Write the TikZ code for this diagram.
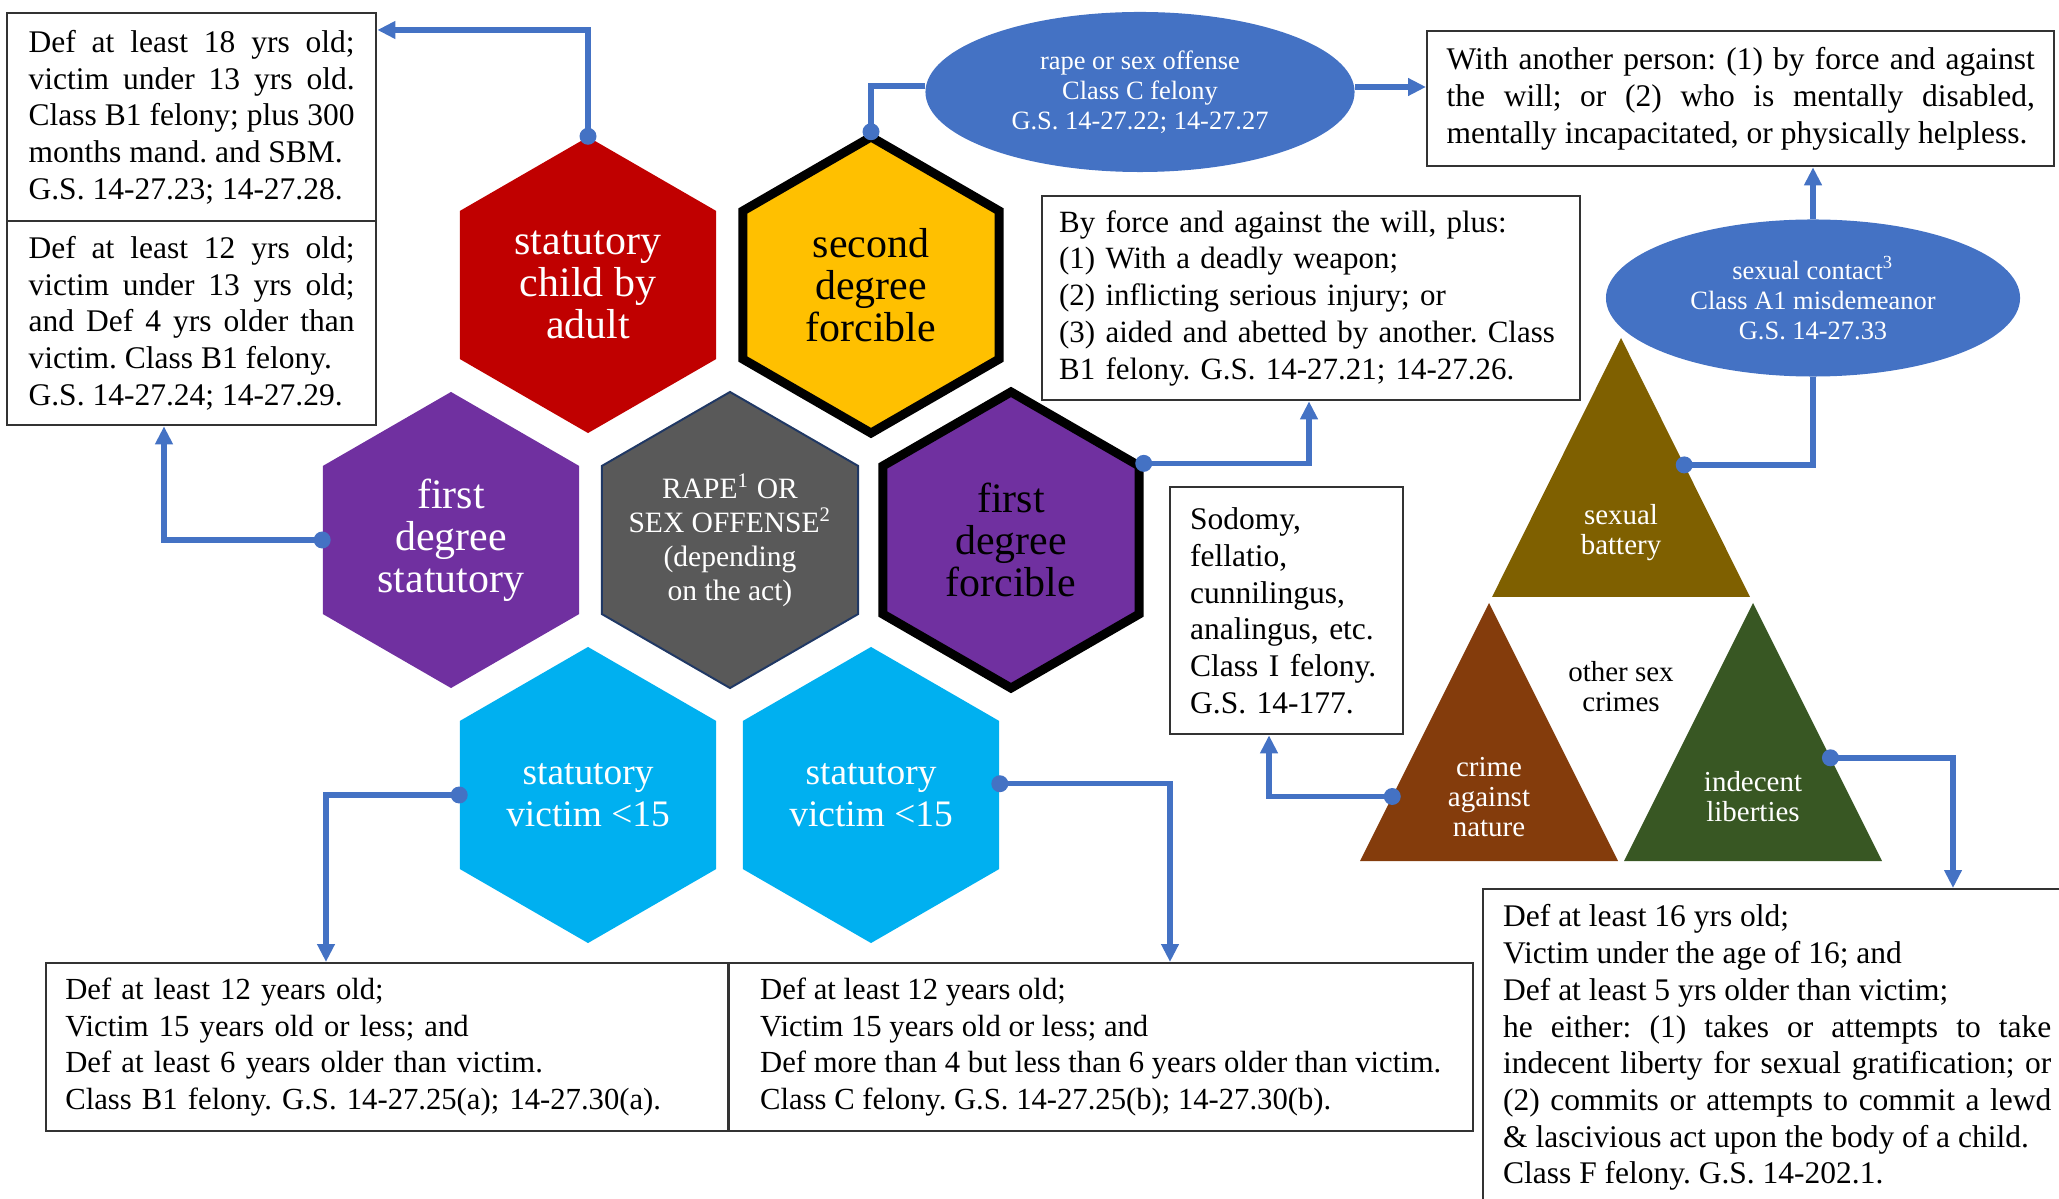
\documentclass[tikz,border=0pt]{standalone}
\usepackage{fontspec}
\setmainfont{Liberation Serif}
\usepackage{xcolor}
\usepackage{tikz}
\usetikzlibrary{shapes.geometric, arrows.meta, positioning, calc}
\frenchspacing
\hyphenpenalty=10000
\exhyphenpenalty=10000

\definecolor{cred}{HTML}{C00000}
\definecolor{cyellow}{HTML}{FFC000}
\definecolor{cpurple}{HTML}{7030A0}
\definecolor{cgrey}{HTML}{595959}
\definecolor{ccyan}{HTML}{00B0F0}
\definecolor{cblue}{HTML}{4472C4}
\definecolor{colive}{HTML}{7F6000}
\definecolor{cbrown}{HTML}{843C0C}
\definecolor{cgreen}{HTML}{385723}
\definecolor{cnavy}{HTML}{203864}

\begin{document}
\begin{tikzpicture}[
    x=0.0125cm, y=-0.0125cm,
    hexa/.style={regular polygon, regular polygon sides=6, shape border rotate=30, minimum size=3.7cm, inner sep=-0.6cm, align=center, font=\fontsize{14.9}{14.9}\selectfont},
    thickhex/.style={hexa, draw=black, line width=3.2pt},
    box/.style={rectangle, draw=black!80, line width=0.8pt, anchor=north west, inner xsep=0.24cm, inner ysep=0pt, font=\fontsize{11.2}{13.05}\selectfont},
    oval/.style={ellipse, fill=cblue, text=white, align=center, inner sep=0pt, font=\fontsize{9.4}{10.7}\selectfont},
    tri/.style={text=white, align=center, font=\fontsize{10.3}{10.7}\selectfont},
    link/.style={draw=cblue, line width=1.95pt, shorten <=-3pt, {Circle[length=6pt]}-},
    tip/.style={draw=cblue, line width=1.95pt, -{Triangle[length=6.4pt, width=6pt]}},
    arrow/.style={link, {Circle[length=6pt]}-{Triangle[length=6.4pt, width=6pt]}}
]
\useasboundingbox (0,0) rectangle (2059,1199);

% hexagons
\node[hexa, fill=cred, text=white] (childadult) at (588,285) {statutory\\child by\\adult};
\node[thickhex, fill=cyellow] (seconddeg) at (871,285) {second\\degree\\forcible};
\node[hexa, fill=cpurple, text=white] (firststat) at (451,540) {first\\degree\\statutory};
\node[hexa, fill=cgrey, draw=cnavy, line width=0.7pt, text=white, font=\fontsize{10.5}{12.1}\selectfont] (rapeact) at (730,540) {RAPE\textsuperscript{1} OR\\SEX OFFENSE\textsuperscript{2}\\(depending\\on the act)};
\node[thickhex, fill=cpurple] (firstforc) at (1011,540) {first\\degree\\forcible};
\node[hexa, fill=ccyan, text=white, font=\fontsize{13.3}{15}\selectfont] (victimold) at (588,795) {statutory\\victim <15};
\node[hexa, fill=ccyan, text=white, font=\fontsize{13.3}{15}\selectfont] (victimyoung) at (871,795) {statutory\\victim <15};

% ovals
\node[oval, minimum width=5.3625cm, minimum height=2cm] (sexoffense) at (1140,92) {rape or sex offense\\Class C felony\\G.S. 14-27.22; 14-27.27};
\node[oval, minimum width=5.175cm, minimum height=1.9625cm] (sexcontact) at (1813,298) {sexual contact\textsuperscript{3}\\Class A1 misdemeanor\\G.S. 14-27.33};

% triangles
\fill[colive] (1621,338) coordinate (sbtop) -- (1750,597) coordinate (sbright) -- (1492,597) coordinate (sbleft) -- cycle;
\fill[cbrown] (1489,603) coordinate (catop) -- (1618,861) coordinate (caright) -- (1360,861) coordinate (caleft) -- cycle;
\fill[cgreen] (1753,603) coordinate (iltop) -- (1882,861) coordinate (ilright) -- (1624,861) coordinate (illeft) -- cycle;
\node[tri] (battery) at (1621,533) {sexual\\battery};
\node[tri] (nature) at (1489,797) {crime\\against\\nature};
\node[tri] (liberty) at (1753,797) {indecent\\liberties};
\node[tri, text=black] (othercrimes) at (1621,687) {other sex\\crimes};
\coordinate (batterydot) at ($(sbtop)!0.49!(sbright)$);
\coordinate (naturedot) at ($(catop)!0.75!(caleft)$);
\coordinate (libertydot) at ($(iltop)!0.6!(ilright)$);

% text boxes
\node[box, align=justify, text width=4.075cm, minimum width=4.6125cm, minimum height=2.6cm] (adultbox) at (6,12) {Def at least 18 yrs old;\linebreak victim under 13 yrs old.\linebreak Class B1 felony; plus 300\linebreak months mand. and SBM.\newline G.S. 14-27.23; 14-27.28.};
\node[box, align=justify, text width=4.075cm, minimum width=4.6125cm, minimum height=2.55cm] (agebox) at (6,220) {Def at least 12 yrs old;\linebreak victim under 13 yrs old;\linebreak and Def 4 yrs older than\linebreak victim. Class B1 felony.\newline G.S. 14-27.24; 14-27.29.};
\node[box, align=justify, text width=7.35cm, minimum width=7.8375cm, minimum height=1.6875cm] (personbox) at (1426,30) {With another person: (1) by force and against\linebreak the will; or (2) who is mentally disabled,\linebreak mentally incapacitated, or physically helpless.};
\node[box, align=left, inner xsep=0.2cm, text width=6.3cm, minimum width=6.725cm, minimum height=2.55cm, font=\fontsize{11}{13.05}\selectfont] (forcebox) at (1041,195) {By force and against the will, plus:\\(1) With a deadly weapon;\\(2) inflicting serious injury; or\\(3) aided and abetted by another. Class\\B1 felony. G.S. 14-27.21; 14-27.26.};
\node[box, align=left, text width=2.4125cm, minimum width=2.9125cm, minimum height=3.0875cm] (naturebox) at (1169,486) {Sodomy,\\fellatio,\\cunnilingus,\\analingus, etc.\\Class I felony.\\G.S. 14-177.};
\node[box, align=justify, text width=6.85cm, minimum width=7.35cm, minimum height=3.9625cm] (libertybox) at (1482,888) {Def at least 16 yrs old;\newline Victim under the age of 16; and\newline Def at least 5 yrs older than victim;\newline he either: (1) takes or attempts to take\linebreak indecent liberty for sexual gratification; or\linebreak (2) commits or attempts to commit a lewd\linebreak \& lascivious act upon the body of a child.\newline Class F felony. G.S. 14-202.1.};
\node[box, align=left, text width=8.05cm, minimum width=8.525cm, minimum height=2.1cm, font=\fontsize{10.9}{13.05}\selectfont] (olderbox) at (45,962) {Def at least 12 years old;\\Victim 15 years old or less; and\\Def at least 6 years older than victim.\\Class B1 felony. G.S. 14-27.25(a); 14-27.30(a).};
\node[box, align=left, inner xsep=0pt, minimum width=9.3125cm, minimum height=2.1cm, font=\fontsize{10.9}{13.05}\selectfont] (youngerbox) at (727,962) {Def at least 12 years old;\\Victim 15 years old or less; and\\Def more than 4 but less than 6 years older than victim.\\Class C felony. G.S. 14-27.25(b); 14-27.30(b).};

% connectors
\draw[arrow] (childadult.90) |- ($(adultbox.north east)+(0,18)$);
\draw[arrow] (firststat.180) -| ($(agebox.south west)+(158,0)$);
\draw[link] (seconddeg.90) |- ($(sexoffense.west)+(0,-6)$);
\draw[tip] ($(sexoffense.east)+(0,-5)$) -- (personbox.west |- {$(sexoffense.east)+(0,-5)$});
\draw[arrow] (firstforc.30) -| ($(forcebox.south west)+(268,0)$);
\draw[link] (batterydot) -| (sexcontact.south);
\draw[tip] (sexcontact.north) -- (sexcontact.north |- personbox.south);
\draw[arrow] (naturedot) -| ($(naturebox.south west)+(100,0)$);
\draw[arrow] (libertydot) -| ($(libertybox.north west)+(471,0)$);
\draw[arrow] (victimold.180) -| ($(olderbox.north west)+(281,0)$);
\draw[arrow] (victimyoung.5) -| ($(youngerbox.north west)+(443,0)$);

\end{tikzpicture}
\end{document}
